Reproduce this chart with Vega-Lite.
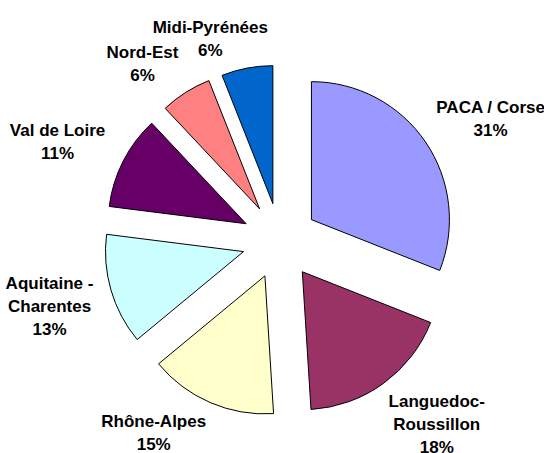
{
  "$schema": "https://vega.github.io/schema/vega-lite/v6.json",
  "width": 528,
  "height": 424,
  "autosize": {"type": "none"},
  "padding": {"left": 16, "top": 29, "right": 0, "bottom": 0},
  "background": "white",
  "config": {"view": {"stroke": null}},
  "data": {
    "values": [
      {"Region": "PACA / Corse", "Share": 31, "Label": "PACA / Corse\n31%"},
      {"Region": "Languedoc-Roussillon", "Share": 18, "Label": "Languedoc-\nRoussillon\n18%"},
      {"Region": "Rhône-Alpes", "Share": 15, "Label": "Rhône-Alpes\n15%"},
      {"Region": "Aquitaine - Charentes", "Share": 13, "Label": "Aquitaine -\nCharentes\n13%"},
      {"Region": "Val de Loire", "Share": 11, "Label": "Val de Loire\n11%"},
      {"Region": "Nord-Est", "Share": 6, "Label": "Nord-Est\n6%"},
      {"Region": "Midi-Pyrénées", "Share": 6, "Label": "Midi-Pyrénées\n6%"}
    ]
  },
  "encoding": {
    "theta": {"field": "Share", "type": "quantitative", "stack": true},
    "order": {"field": "Share", "type": "quantitative", "sort": "descending"}
  },
  "layer": [
    {
      "mark": {
        "type": "arc",
        "outerRadius": 138,
        "stroke": "black",
        "strokeWidth": 1,
        "xOffset": {"expr": "38*sin(PI*(datum.Share_start+datum.Share_end)/100)"},
        "yOffset": {"expr": "-38*cos(PI*(datum.Share_start+datum.Share_end)/100)"}
      },
      "encoding": {
        "color": {
          "field": "Region",
          "type": "nominal",
          "legend": null,
          "scale": {
            "domain": ["PACA / Corse", "Languedoc-Roussillon", "Rhône-Alpes", "Aquitaine - Charentes", "Val de Loire", "Nord-Est", "Midi-Pyrénées"],
            "range": ["#9999FF", "#993366", "#FFFFCC", "#CCFFFF", "#660066", "#FF8080", "#0066CC"]
          }
        }
      }
    },
    {
      "mark": {
        "type": "text",
        "radius": 185,
        "font": "Liberation Sans",
        "fontSize": 17,
        "fontWeight": "bold",
        "lineBreak": "\n",
        "lineHeight": 23,
        "align": "center",
        "baseline": "middle",
        "color": "black",
        "dx": {"expr": "clamp(3*sin(PI*(datum.Share_start+datum.Share_end)/100),-1,1)*length(split(datum.Label, '\\n')[0])*4.8"},
        "dy": {"expr": "3*max(0,cos(PI*(datum.Share_start+datum.Share_end)/100))+clamp(-1.5*cos(PI*(datum.Share_start+datum.Share_end)/100),-1,1)*length(split(datum.Label, '\\n'))*11.5-(length(split(datum.Label, '\\n'))-1)*11.5"}
      },
      "encoding": {
        "text": {"field": "Label", "type": "nominal"}
      }
    }
  ]
}
